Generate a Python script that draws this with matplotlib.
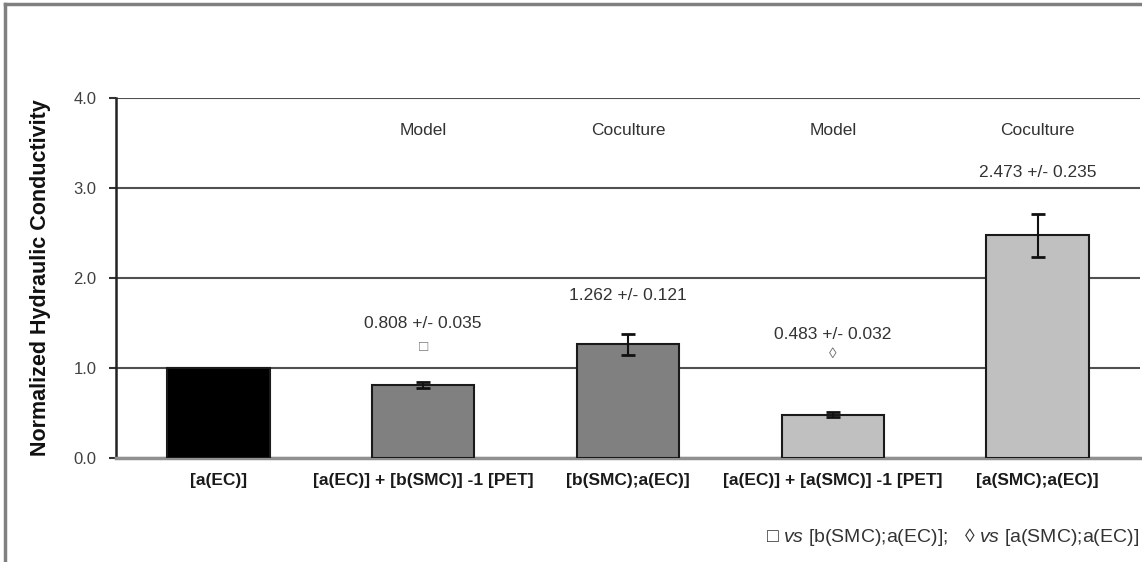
import matplotlib as mpl
mpl.use('Agg')
import matplotlib.pyplot as plt
from matplotlib.lines import Line2D
import numpy as np

plt.rcParams['font.family'] = ['Liberation Sans', 'DejaVu Sans']
plt.rcParams['mathtext.fontset'] = 'custom'
plt.rcParams['mathtext.it'] = 'Liberation Sans:italic'
plt.rcParams['mathtext.rm'] = 'Liberation Sans'

# data
categories = ['[a(EC)]', '[a(EC)] + [b(SMC)] -1 [PET]', '[b(SMC);a(EC)]',
              '[a(EC)] + [a(SMC)] -1 [PET]', '[a(SMC);a(EC)]']
means = [1.0, 0.808, 1.262, 0.483, 2.473]
errors = [0.0, 0.035, 0.121, 0.032, 0.235]
groups = ['', 'Model', 'Coculture', 'Model', 'Coculture']
marks = ['', '\u25a1', '', '\u25ca', '']
yticks = [0.0, 1.0, 2.0, 3.0, 4.0]

colors = ['#000000', '#808080', '#808080', '#c0c0c0', '#c0c0c0']
# heights (data units) for value labels and marks
label_y = [None, 1.49, 1.81, 1.37, 3.17]
mark_y = [None, 1.23, None, 1.16, None]

fig = plt.figure(figsize=(11.42, 5.62), dpi=100)
ax = fig.add_axes([116/1142, 1-458/562, 1024/1142, 360/562])

x = np.arange(len(categories))
ax.bar(x, means, width=0.5, color=colors, edgecolor='#1a1a1a', linewidth=1.5, zorder=3)
for i in range(len(x)):
	if errors[i] > 0:
		ax.errorbar(x[i], means[i], yerr=errors[i], fmt='none', ecolor='#111111',
			elinewidth=1.5, capsize=4.7, capthick=2, zorder=4)

ax.set_xlim(-0.5, len(x)-0.5)
ax.set_ylim(0, 4.0)
ax.set_yticks(yticks)
ax.set_yticklabels(['%.1f' % v for v in yticks], fontsize=12, color='#404040')
ax.set_xticks(x)
ax.set_xticklabels(categories, fontsize=12.5, fontweight='bold', color='#1a1a1a')
ax.tick_params(axis='x', length=0, pad=11)
ax.tick_params(axis='y', length=5, width=1.5, color='#333333', pad=9)
ax.yaxis.grid(True, color='#505050', linewidth=1.5, zorder=0)
ax.set_axisbelow(True)
for s in ['top', 'right']:
	ax.spines[s].set_visible(False)
ax.spines['left'].set_color('#222222')
ax.spines['left'].set_linewidth(1.8)
ax.spines['bottom'].set_color('#909090')
ax.spines['bottom'].set_linewidth(2.5)

fig.text(41/1142, 1-278/562, 'Normalized Hydraulic Conductivity', rotation=90,
	ha='center', va='center', fontsize=15.5, fontweight='bold', color='#111111')

for i in range(len(x)):
	if groups[i]:
		ax.text(x[i], 3.64, groups[i], ha='center', va='center', fontsize=12.5, color='#333333')
	if label_y[i] is not None:
		ax.text(x[i], label_y[i], '%.3f +/- %.3f' % (means[i], errors[i]),
			ha='center', va='center', fontsize=12.5, color='#333333')
	if mark_y[i] is not None:
		ax.text(x[i], mark_y[i], marks[i], ha='center', va='center', fontsize=11, color='#707070')

# footnote
fig.text(1139/1142, 1-537/562,
	'\u25a1 $\\it{vs}$ [b(SMC);a(EC)];   \u25ca $\\it{vs}$ [a(SMC);a(EC)]',
	ha='right', va='center', fontsize=14, color='#333333')

# outer frame
fig.add_artist(Line2D([5/1142, 1.0], [1-4/562, 1-4/562], color='#808080', linewidth=2.5))
fig.add_artist(Line2D([5/1142, 5/1142], [1-4/562, 0.0], color='#808080', linewidth=2.5))

plt.savefig('out.png', dpi=100)
